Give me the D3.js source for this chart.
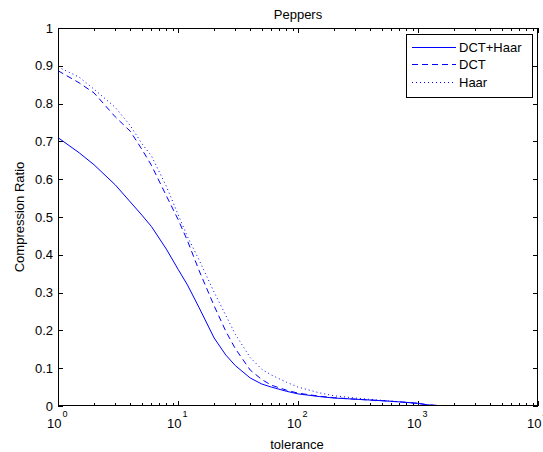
<!DOCTYPE html>
<html>
<head>
<meta charset="utf-8">
<script src="https://cdn.jsdelivr.net/npm/d3@7"></script>
<style>
  html, body { margin: 0; padding: 0; background: #fff; }
  svg { display: block; }
  text { font-family: "Liberation Sans", Arial, sans-serif; fill: #000; }
</style>
</head>
<body>
<svg id="chart" width="543" height="452"></svg>
<script>
// ---- data ----
const tolerance = [1, 1.5, 2, 3, 4, 5, 6, 8, 10, 12, 15, 20, 25, 30, 40, 50, 60, 80, 100, 150, 200, 300, 500, 700, 1000, 1200, 1500, 1800];
const dctHaar = [0.71, 0.67, 0.638, 0.585, 0.54, 0.505, 0.475, 0.415, 0.362, 0.32, 0.26, 0.18, 0.135, 0.107, 0.074, 0.058, 0.05, 0.039, 0.032, 0.025, 0.021, 0.018, 0.014, 0.011, 0.007, 0.003, 0.001, 0.0];
const dct = [0.887, 0.855, 0.828, 0.765, 0.727, 0.679, 0.637, 0.556, 0.494, 0.437, 0.358, 0.265, 0.198, 0.152, 0.095, 0.07, 0.055, 0.042, 0.034, 0.026, 0.022, 0.018, 0.014, 0.011, 0.007, 0.003, 0.001, 0.0];
const haar = [0.897, 0.87, 0.838, 0.79, 0.742, 0.694, 0.662, 0.581, 0.507, 0.448, 0.386, 0.301, 0.24, 0.19, 0.128, 0.097, 0.082, 0.063, 0.05, 0.035, 0.027, 0.021, 0.015, 0.011, 0.007, 0.003, 0.001, 0.0];
const seriesNames = ["DCT+Haar", "DCT", "Haar"];
const xTickExponents = [0, 1, 2, 3, 4];
const yTicks = [0, 0.1, 0.2, 0.3, 0.4, 0.5, 0.6, 0.7, 0.8, 0.9, 1];
const yTickLabels = ["0", "0.1", "0.2", "0.3", "0.4", "0.5", "0.6", "0.7", "0.8", "0.9", "1"];
const titleText = "Peppers";
const xLabelText = "tolerance";
const yLabelText = "Compression Ratio";

// ---- layout ----
const L = 58, R = 538, T = 28, B = 406;
const FS = 13;
const svg = d3.select("#chart");
const x = d3.scaleLog().domain([1, 10000]).range([L, R]);
const y = d3.scaleLinear().domain([0, 1]).range([B, T]);

const color = "#0000ff";
const styles = [
  { dash: null },
  { dash: "6,4" },
  { dash: "1,3" }
];
const seriesData = [dctHaar, dct, haar];

// minor + major x ticks
const minor = [];
for (let e = 0; e < 4; e++) for (let m = 2; m <= 9; m++) minor.push(m * Math.pow(10, e));
const major = xTickExponents.map(e => Math.pow(10, e));

const tickG = svg.append("g").attr("shape-rendering", "crispEdges");
function xTicks(vals, len) {
  tickG.append("g").attr("transform", `translate(0,${B})`)
    .call(d3.axisBottom(x).tickValues(vals).tickSizeInner(-len).tickSizeOuter(0).tickFormat(""))
    .call(g => g.select(".domain").remove());
  tickG.append("g").attr("transform", `translate(0,${T})`)
    .call(d3.axisTop(x).tickValues(vals).tickSizeInner(-len).tickSizeOuter(0).tickFormat(""))
    .call(g => g.select(".domain").remove());
}
xTicks(minor, 3);
xTicks(major, 5);
tickG.append("g").attr("transform", `translate(${L},0)`)
  .call(d3.axisLeft(y).tickValues(yTicks).tickSizeInner(-5).tickSizeOuter(0).tickFormat(""))
  .call(g => g.select(".domain").remove());
tickG.append("g").attr("transform", `translate(${R},0)`)
  .call(d3.axisRight(y).tickValues(yTicks).tickSizeInner(-5).tickSizeOuter(0).tickFormat(""))
  .call(g => g.select(".domain").remove());
tickG.selectAll("line").attr("stroke", "#000");

// lines
const line = d3.line().x((d, i) => x(tolerance[i])).y(d => y(d));
svg.append("clipPath").attr("id", "clip").append("rect")
  .attr("x", L).attr("y", T).attr("width", R - L).attr("height", B - T);
seriesData.forEach((s, k) => {
  svg.append("path").datum(s)
    .attr("d", line)
    .attr("fill", "none")
    .style("stroke", color)
    .attr("stroke-width", 1)
    .attr("stroke-dasharray", styles[k].dash)
    .attr("clip-path", "url(#clip)");
});

// box
svg.append("rect").attr("x", L + 0.5).attr("y", T + 0.5).attr("width", R - L - 1).attr("height", B - T - 1)
  .attr("fill", "none").attr("stroke", "#000").attr("stroke-width", 1);

// y tick labels
svg.append("g").selectAll("text").data(yTicks).join("text")
  .attr("x", L - 5).attr("y", d => y(d)).attr("dy", "0.36em")
  .attr("text-anchor", "end").attr("font-size", FS)
  .text((d, i) => yTickLabels[i]);

// x tick labels 10^e
const xl = svg.append("g").selectAll("text").data(xTickExponents).join("text")
  .attr("x", d => x(Math.pow(10, d)) - 11).attr("y", B + 22)
  .attr("text-anchor", "start").attr("font-size", FS);
xl.append("tspan").text("10");
xl.append("tspan").attr("font-size", 9).attr("dy", -11).attr("dx", 1).text(d => String(d));

// title & labels
svg.append("text").attr("x", (L + R) / 2).attr("y", T - 9).attr("text-anchor", "middle")
  .attr("font-size", FS).text(titleText);
svg.append("text").attr("x", (L + R) / 2 - 1).attr("y", B + 43).attr("text-anchor", "middle")
  .attr("font-size", FS).text(xLabelText);
svg.append("text").attr("transform", `translate(24,${(T + B) / 2}) rotate(-90)`)
  .attr("text-anchor", "middle").attr("font-size", FS).text(yLabelText);

// legend
const lg = svg.append("g");
const lx0 = 406, ly0 = 34, lw = 126, lh = 63;
lg.append("rect").attr("x", lx0 + 0.5).attr("y", ly0 + 0.5).attr("width", lw).attr("height", lh)
  .attr("fill", "#fff").attr("stroke", "#000").attr("stroke-width", 1);
const rowY = [47, 64, 82];
seriesNames.forEach((n, k) => {
  lg.append("line").attr("x1", 412).attr("x2", 456).attr("y1", rowY[k] + 0.5).attr("y2", rowY[k] + 0.5)
    .style("stroke", color).attr("stroke-width", 1).attr("stroke-dasharray", styles[k].dash);
  lg.append("text").attr("x", 459).attr("y", rowY[k]).attr("dy", "0.36em").attr("font-size", FS).text(n);
});
</script>
</body>
</html>
